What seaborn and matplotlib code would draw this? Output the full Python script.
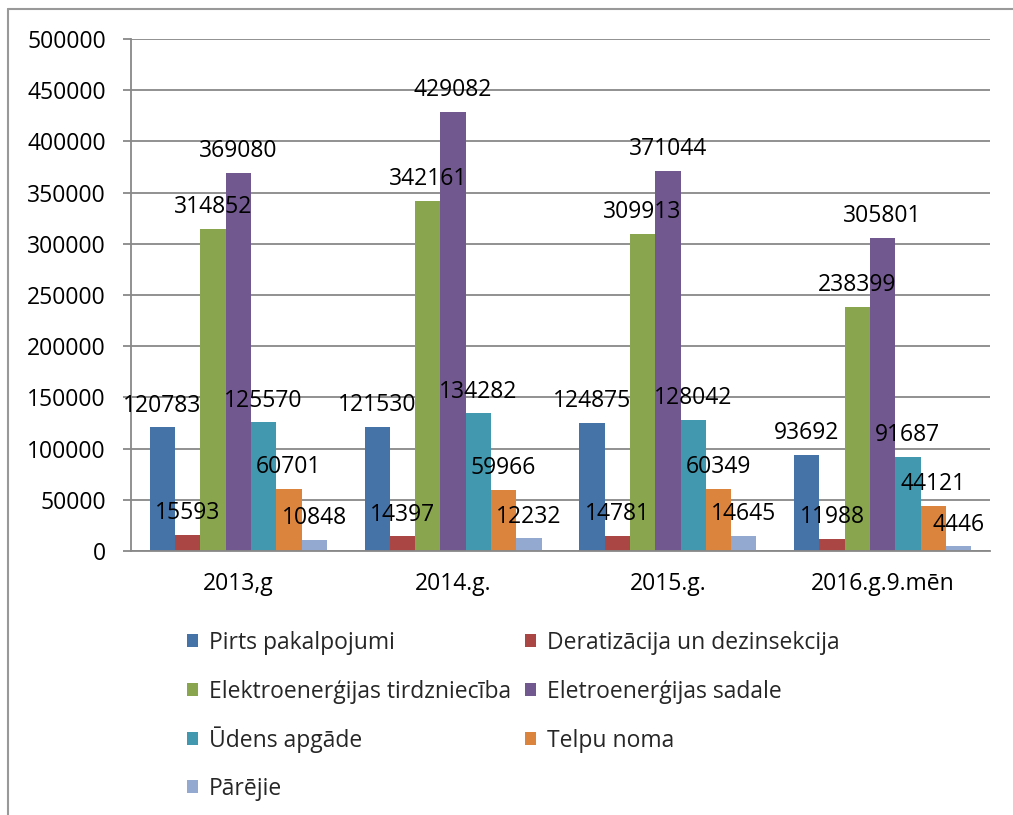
import matplotlib
matplotlib.use("Agg")
import matplotlib.pyplot as plt
from matplotlib.lines import Line2D
from matplotlib.patches import Patch
import seaborn as sns
import pandas as pd

categories = ["2013,g", "2014.g.", "2015.g.", "2016.g.9.mēn"]
series = ["Pirts pakalpojumi", "Deratizācija un dezinsekcija",
          "Elektroenerģijas tirdzniecība", "Eletroenerģijas sadale",
          "Ūdens apgāde", "Telpu noma", "Pārējie"]
pirts = [120783, 121530, 124875, 93692]
deratizacija = [15593, 14397, 14781, 11988]
elektro_tirdz = [314852, 342161, 309913, 238399]
elektro_sadale = [369080, 429082, 371044, 305801]
udens = [125570, 134282, 128042, 91687]
telpu = [60701, 59966, 60349, 44121]
parejie = [10848, 12232, 14645, 4446]
colors = ["#4572A7", "#AA4643", "#89A54E", "#71588F", "#4198AF", "#DB843D", "#93A9CF"]
yticks = [0, 50000, 100000, 150000, 200000, 250000, 300000, 350000, 400000, 450000, 500000]

values = [pirts, deratizacija, elektro_tirdz, elektro_sadale, udens, telpu, parejie]
rows = []
for s, vals in zip(series, values):
    for c, v in zip(categories, vals):
        rows.append({"cat": c, "series": s, "value": v})
df = pd.DataFrame(rows)

sns.set_theme(style="white")
plt.rcParams["font.family"] = ["Open Sans", "DejaVu Sans"]
FS = 16.5

W, H = 1013, 815
fig = plt.figure(figsize=(W / 100, H / 100), dpi=100)
ax = fig.add_axes([131 / W, 1 - 551 / H, (990 - 131) / W, (551 - 39) / H])

sns.barplot(data=df, x="cat", y="value", hue="series", hue_order=series,
            order=categories, palette=colors, width=7 / 8.5, saturation=1,
            linewidth=0, legend=False, ax=ax)

for cont in ax.containers:
    ax.bar_label(cont, fmt="%d", padding=7, fontsize=FS, color="black")

ax.set_ylim(0, 500000)
ax.set_xlim(-0.5, len(categories) - 0.5)
ax.set_yticks(yticks)
ax.set_yticklabels([str(t) for t in yticks], fontsize=FS, color="black")
ax.set_xlabel("")
ax.set_ylabel("")
ax.set_xticks(range(len(categories)))
ax.set_xticklabels(categories, fontsize=FS, color="black")
ax.set_xticks([i - 0.5 for i in range(len(categories) + 1)], minor=True)
ax.tick_params(axis="x", which="major", length=0, pad=15)
ax.tick_params(axis="x", which="minor", length=6, width=1.3, color="#888888", direction="out")
ax.tick_params(axis="y", length=6, width=1.3, color="#888888", direction="out", pad=12, left=True)
ax.yaxis.grid(True, color="#888888", linewidth=1.3)
ax.set_axisbelow(True)
for side in ["top", "right"]:
    ax.spines[side].set_visible(False)
for side in ["left", "bottom"]:
    ax.spines[side].set_color("#888888")
    ax.spines[side].set_linewidth(1.3)

# legend: two columns, rows filled left to right; one entry per legend box so
# rows stay aligned on a common baseline
col_x = [187 / W, 525 / W]
row_bottom = [655, 704, 753, 801]
for i, (name, col) in enumerate(zip(series, colors)):
    r, c = divmod(i, 2)
    fig.legend([Patch(facecolor=col, edgecolor="none")], [name], loc="lower left",
               bbox_to_anchor=(col_x[c], 1 - row_bottom[r] / H),
               frameon=False, fontsize=FS, handlelength=0.5, handleheight=0.5,
               handletextpad=0.45, borderpad=0, borderaxespad=0)

# outer chart border
fig.add_artist(Line2D([8 / W, 8 / W], [0, 1 - 9 / H], color="#999999", lw=1.5,
                      transform=fig.transFigure))
fig.add_artist(Line2D([8 / W, 1], [1 - 9 / H, 1 - 9 / H], color="#999999", lw=1.5,
                      transform=fig.transFigure))

fig.savefig("out.png", dpi=100)
